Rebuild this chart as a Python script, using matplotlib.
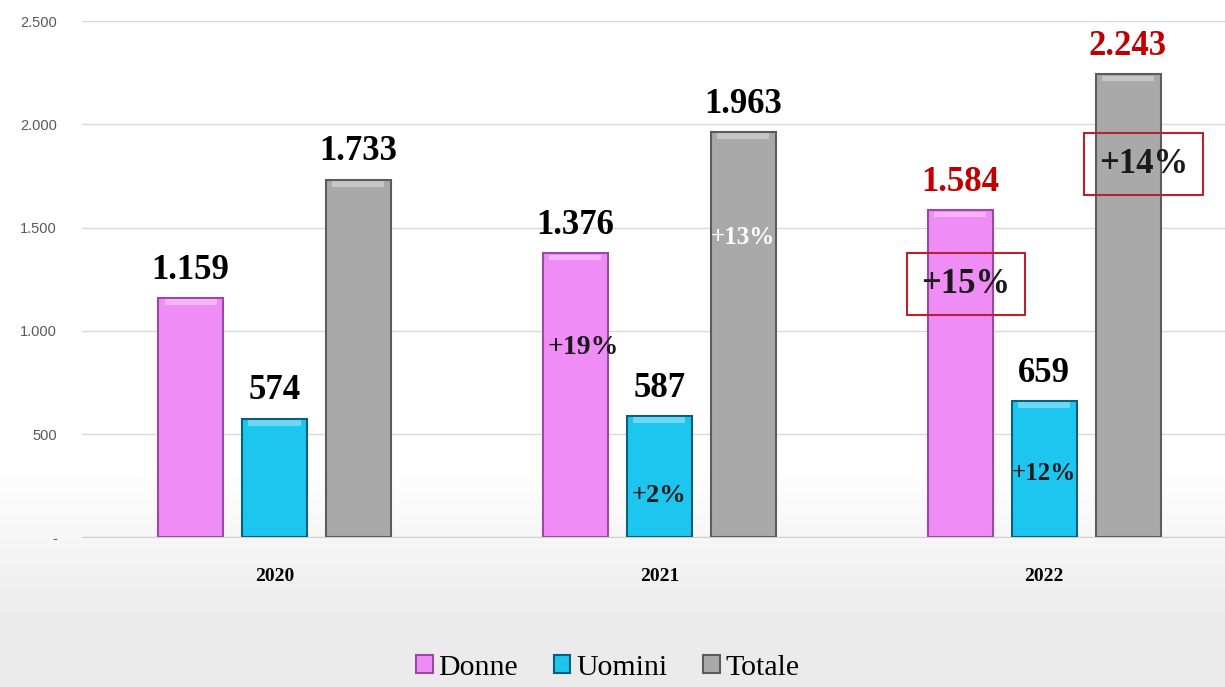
import matplotlib.pyplot as plt
import numpy as np

years = ["2020", "2021", "2022"]
donne = [1159, 1376, 1584]
uomini = [574, 587, 659]
totale = [1733, 1963, 2243]

value_labels = {
    "Donne": ["1.159", "1.376", "1.584"],
    "Uomini": ["574", "587", "659"],
    "Totale": ["1.733", "1.963", "2.243"],
}
y_ticks = [0, 500, 1000, 1500, 2000, 2500]
y_tick_labels = ["-", "500", "1.000", "1.500", "2.000", "2.500"]

serif = ["Liberation Serif", "DejaVu Serif"]

fig = plt.figure(figsize=(12.25, 6.87), dpi=100)

# background: white fading to light grey at the bottom
bg = fig.add_axes([0, 0, 1, 1], zorder=-5)
grad = np.ones((687, 1))
rows = np.arange(687)
grad[:, 0] = np.clip((rows - 470) / 150, 0, 1)
col_top = np.array([1.0, 1.0, 1.0])
col_bot = np.array([0.925, 0.925, 0.925])
img = col_top[None, None, :] * (1 - grad[:, :, None]) + col_bot[None, None, :] * grad[:, :, None]
bg.imshow(img, aspect="auto", extent=[0, 1, 0, 1], origin="upper")
bg.axis("off")

ax = fig.add_axes([0.067, 0.218, 0.933, 0.751])
ax.patch.set_alpha(0)

x = np.arange(len(years))
step = 0.218
width = 0.169

series = [
    ("Donne", donne, "#f08cf6", "#9a4aa2"),
    ("Uomini", uomini, "#1cc6ef", "#0b5f7e"),
    ("Totale", totale, "#a9a9a9", "#5c5c5c"),
]

for i, (name, vals, fc, ec) in enumerate(series):
    pos = x + (i - 1) * step
    ax.bar(pos, vals, width, color=fc, edgecolor=ec, linewidth=1.5, zorder=3, label=name)
    # top bevel highlight
    ax.bar(pos, [28] * len(vals), width * 0.8, bottom=np.array(vals) - 34,
           color="white", alpha=0.35, linewidth=0, zorder=4)
    for j, v in enumerate(vals):
        color = "#c00000" if (j == 2 and name != "Uomini") else "black"
        ax.text(pos[j], v + 55, value_labels[name][j], ha="center", va="bottom",
                fontsize=25, fontweight="bold", family=serif, color=color, zorder=6)

# percentage annotations
ax.text(x[1] - step + 0.02, 920, "+19%", ha="center", va="center", fontsize=20,
        fontweight="bold", family=serif, color="#1a1a1a", zorder=6)
ax.text(x[1], 203, "+2%", ha="center", va="center", fontsize=19,
        fontweight="bold", family=serif, color="#1a1a1a", zorder=6)
ax.text(x[1] + step, 1453, "+13%", ha="center", va="center", fontsize=18,
        fontweight="bold", family=serif, color="white", zorder=6)
ax.text(x[2], 310, "+12%", ha="center", va="center", fontsize=18,
        fontweight="bold", family=serif, color="#1a1a1a", zorder=6)
ax.text(x[2] - step + 0.015, 1226, "+15%", ha="center", va="center", fontsize=25,
        fontweight="bold", family=serif, color="#1a1a1a", zorder=6,
        bbox=dict(boxstyle="square,pad=0.42", fc="none", ec="#b5232f", lw=1.5))
ax.text(x[2] + step + 0.04, 1807, "+14%", ha="center", va="center", fontsize=25,
        fontweight="bold", family=serif, color="#1a1a1a", zorder=6,
        bbox=dict(boxstyle="square,pad=0.42", fc="none", ec="#b5232f", lw=1.5))

ax.set_xlim(-0.5, 2.47)
ax.set_ylim(0, 2500)
ax.set_yticks(y_ticks)
ax.set_yticklabels(y_tick_labels, fontsize=10.5, color="#595959",
                   family=["Liberation Sans", "DejaVu Sans"])
ax.set_xticks(x)
ax.set_xticklabels(years, fontsize=14, fontweight="bold", family=serif)
ax.tick_params(axis="y", length=0, pad=18)
ax.tick_params(axis="x", length=0, pad=22)
ax.grid(axis="y", color="#d9d9d9", linewidth=1, zorder=0)
for s in ["top", "right", "left"]:
    ax.spines[s].set_visible(False)
ax.spines["bottom"].set_color("#d0d0d0")

handles, labels = ax.get_legend_handles_labels()
fig.legend(handles, labels, loc="center", bbox_to_anchor=(608 / 1225, 1 - 668 / 687),
           ncol=3, frameon=False, prop={"family": serif, "size": 21.5},
           handlelength=0.55, handleheight=0.55, handletextpad=0.2, columnspacing=1.2,
           borderpad=0.2)

fig.savefig("out.png", dpi=100)
